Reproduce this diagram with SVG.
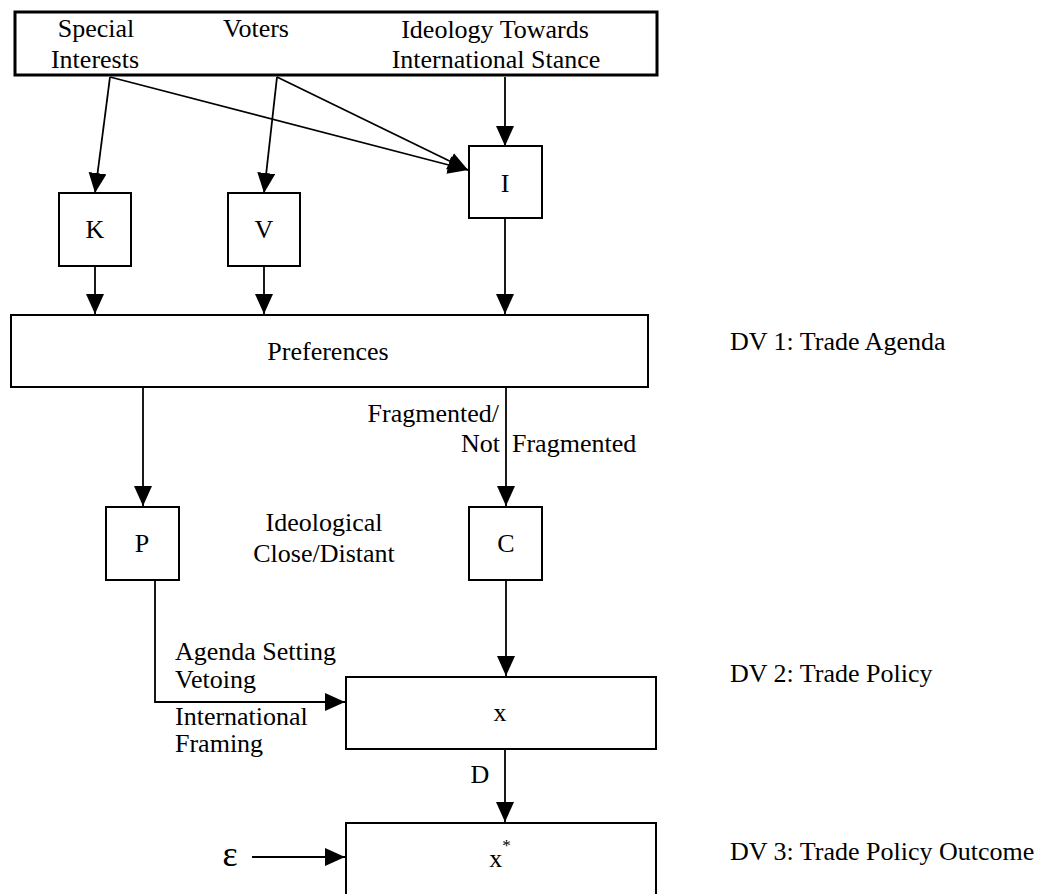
<svg xmlns="http://www.w3.org/2000/svg" width="1055" height="894" viewBox="0 0 1055 894">
<style>
text{font-family:"Liberation Serif","Times New Roman",serif;font-size:26px;fill:#000}
.c{text-anchor:middle}
.e{text-anchor:end}
.box{fill:#fff;stroke:#000;stroke-width:2}
.edge{fill:none;stroke:#000;stroke-width:1.8;marker-end:url(#ah)}
.eps{font-size:36px}
.sup{font-size:17px}
</style>
<defs>
<marker id="ah" markerUnits="userSpaceOnUse" markerWidth="21" markerHeight="19" refX="20" refY="9" orient="auto">
<path d="M0,0 L20,9 L0,18 z" fill="#000"/>
</marker>
</defs>
<rect width="1055" height="894" fill="#fff"/>
<g id="sources">
<rect x="15" y="12" width="642" height="63" fill="#fff" stroke="#000" stroke-width="3"/>
<text class="c" x="96" y="37">Special</text>
<text class="c" x="95" y="68">Interests</text>
<text class="c" x="256" y="37">Voters</text>
<text class="c" x="495" y="38">Ideology Towards</text>
<text class="c" x="496" y="68">International Stance</text>
</g>
<g id="connectors">
<line class="edge" x1="110" y1="77" x2="95" y2="193"/>
<line class="edge" x1="110" y1="77" x2="468" y2="170"/>
<line class="edge" x1="277" y1="77" x2="264" y2="193"/>
<line class="edge" x1="277" y1="77" x2="468" y2="170"/>
<line class="edge" x1="505" y1="77" x2="505" y2="146"/>
<line class="edge" x1="95" y1="266" x2="95" y2="314"/>
<line class="edge" x1="264" y1="266" x2="264" y2="314"/>
<line class="edge" x1="505" y1="218" x2="505" y2="314"/>
<line class="edge" x1="143" y1="388" x2="143" y2="506"/>
<line class="edge" x1="506" y1="388" x2="506" y2="506"/>
<path class="edge" d="M155,581 V702 H345"/>
<line class="edge" x1="506" y1="581" x2="506" y2="676"/>
<line class="edge" x1="505" y1="750" x2="505" y2="822"/>
<line class="edge" x1="252" y1="857" x2="345" y2="857"/>
</g>
<g id="K"><rect class="box" x="59" y="193" width="72" height="73"/><text class="c" x="95" y="238">K</text></g>
<g id="V"><rect class="box" x="228" y="193" width="72" height="73"/><text class="c" x="264" y="238">V</text></g>
<g id="I"><rect class="box" x="469" y="146" width="73" height="72"/><text class="c" x="505" y="192">I</text></g>
<g id="preferences"><rect class="box" x="11" y="315" width="637" height="72"/><text class="c" x="328" y="360">Preferences</text></g>
<g id="P"><rect class="box" x="106" y="507" width="73" height="73"/><text class="c" x="142" y="552">P</text></g>
<g id="C"><rect class="box" x="469" y="507" width="73" height="73"/><text class="c" x="506" y="552">C</text></g>
<g id="x"><rect class="box" x="346" y="677" width="310" height="72"/><text class="c" x="500" y="721">x</text></g>
<g id="xstar"><rect class="box" x="346" y="823" width="310" height="90"/><text class="c" x="500" y="867">x<tspan class="sup" dy="-16">*</tspan></text></g>
<g id="labels">
<text class="e" x="499" y="422">Fragmented/</text>
<text class="e" x="500" y="452">Not</text>
<text x="512" y="452">Fragmented</text>
<text class="c" x="324" y="531">Ideological</text>
<text class="c" x="324" y="562">Close/Distant</text>
<text x="175" y="660">Agenda Setting</text>
<text x="175" y="688">Vetoing</text>
<text x="175" y="725">International</text>
<text x="175" y="752">Framing</text>
<text class="c" x="480" y="783">D</text>
<text class="c eps" x="230" y="866">ε</text>
<text x="730" y="350">DV 1: Trade Agenda</text>
<text x="730" y="682">DV 2: Trade Policy</text>
<text x="730" y="860">DV 3: Trade Policy Outcome</text>
</g>
</svg>
